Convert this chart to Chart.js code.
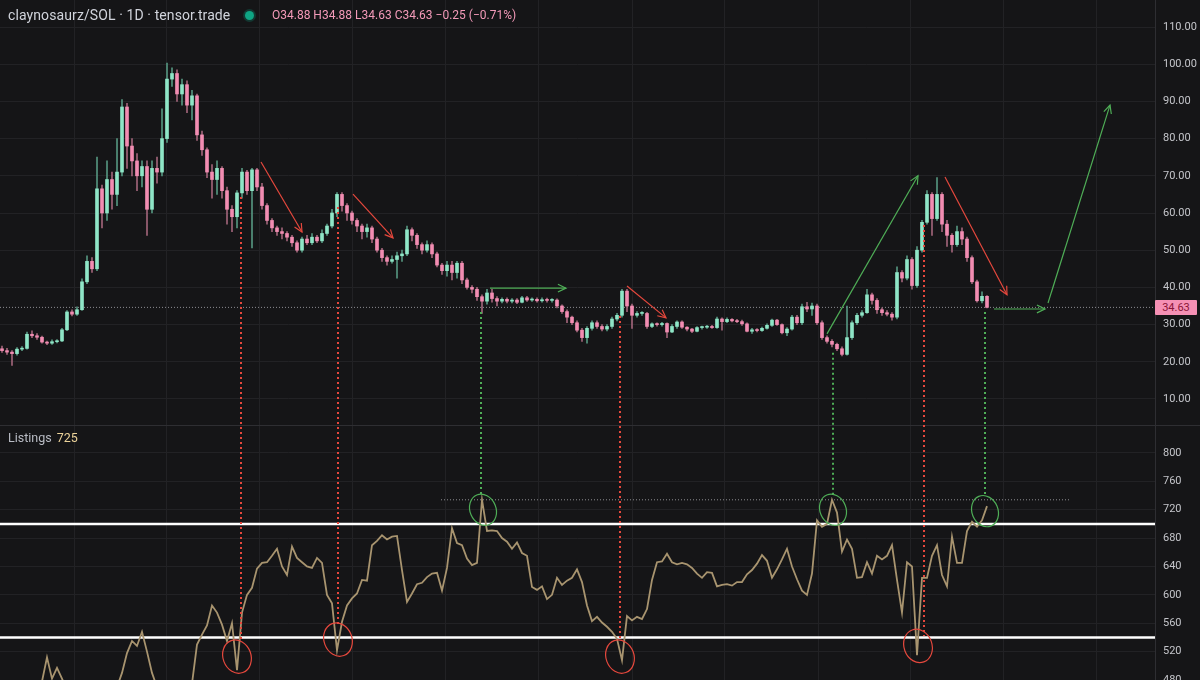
<!DOCTYPE html>
<html><head><meta charset="utf-8">
<script src="https://cdn.jsdelivr.net/npm/chart.js@4.4.1/dist/chart.umd.min.js"></script>
<style>
html,body{margin:0;padding:0;background:#151517;}
#wrap{position:relative;width:1200px;height:680px;overflow:hidden;background:#151517;font-family:Roboto,'DejaVu Sans',sans-serif;}
#c{position:absolute;left:0;top:0;}
.hdr{position:absolute;left:8px;top:7px;font-size:14px;color:#d1d4dc;white-space:nowrap;letter-spacing:0.1px;}
.dot{position:absolute;left:245px;top:11px;width:9px;height:9px;border-radius:50%;background:#0fa584;box-shadow:0 0 0 2px rgba(15,165,132,0.25);}
.ohlc{position:absolute;left:272px;top:8px;font-size:12px;color:#f49ab9;white-space:nowrap;}
.lst{position:absolute;left:8px;top:430px;font-size:12.5px;color:#b9bcc4;white-space:nowrap;}
.lst span{color:#ecd39a;margin-left:5px;}
.plabel{position:absolute;left:1155px;width:42px;height:15px;line-height:15px;background:#f590b4;color:#8a1538;font-size:11px;text-align:center;border-radius:1px;}
</style></head>
<body><div id="wrap"><canvas id="c" width="1200" height="680"></canvas>
<div class="hdr">claynosaurz/SOL · 1D · tensor.trade</div>
<div class="dot"></div>
<div class="ohlc">O34.88 H34.88 L34.63 C34.63 −0.25 (−0.71%)</div>
<div class="lst">Listings<span>725</span></div>
<div class="plabel" id="plabel">34.63</div>
</div>
<script>
// ---- data (one candle per index, oldest first) ----
const opens = [
23.5,23.0,22.6,22.2,23.4,23.6,27.4,27.0,26.6,25.3,
25.0,25.4,25.6,28.6,33.4,32.8,34.0,41.5,47.0,45.0,
66.5,60.0,69.0,65.0,71.0,88.5,78.0,74.0,70.0,72.5,
61.0,72.0,71.0,80.0,96.0,97.5,92.0,94.5,89.0,91.5,
81.0,77.0,71.0,69.0,72.0,66.0,61.0,59.0,65.4,71.0,
66.0,71.6,67.0,62.0,58.0,56.0,55.0,54.5,53.5,52.0,
50.0,53.0,52.0,53.5,52.5,54.5,56.5,60.0,65.0,62.0,
60.0,58.0,56.5,55.0,56.0,53.0,50.0,48.0,47.0,47.5,
48.5,49.0,55.5,54.0,51.5,50.0,51.5,49.0,46.0,44.5,
46.0,44.0,46.5,42.0,40.0,39.5,37.5,36.3,38.5,37.0,
36.3,36.8,36.3,36.6,36.0,37.2,36.6,36.8,36.4,36.7,
36.5,36.6,35.0,33.5,32.0,30.5,28.5,26.5,29.0,30.5,
29.5,28.8,29.5,31.5,32.5,39.0,35.0,32.5,33.0,33.0,
29.5,30.2,30.0,30.3,28.0,29.5,30.7,29.3,28.8,28.2,
29.2,29.3,29.5,29.2,31.5,30.8,31.4,31.0,30.8,30.2,
28.2,28.6,28.4,29.0,29.8,31.2,30.0,27.8,28.8,32.0,
30.5,34.8,34.2,35.0,30.5,26.5,25.5,24.7,23.5,22.0,
26.5,30.5,32.5,33.2,38.0,36.5,34.0,33.2,32.8,32.0,
44.0,42.5,47.5,40.5,50.0,57.5,65.0,58.5,65.0,57.0,
54.0,51.5,55.0,53.0,48.0,41.5,36.4,37.6];
const highs = [
24.2,23.6,23.0,23.8,24.1,28.0,28.3,27.6,26.9,25.6,
25.9,26.0,29.0,33.8,34.0,34.8,42.3,48.5,48.0,75.0,
67.5,74.0,71.0,80.0,90.5,89.5,80.0,76.0,74.0,74.0,
74.0,75.0,88.0,100.3,99.0,98.5,96.0,95.5,93.0,92.0,
82.0,77.5,73.0,74.0,72.5,67.0,62.0,66.0,72.0,71.5,
72.0,72.0,68.0,62.5,58.5,56.5,56.0,55.0,54.0,52.5,
53.5,54.0,54.5,54.0,55.5,57.0,61.0,65.5,65.5,62.5,
60.5,58.5,57.0,57.0,56.5,53.5,50.5,48.5,48.5,49.5,
50.0,56.5,56.0,54.5,52.0,52.5,52.0,49.5,46.5,47.0,
47.0,47.0,47.0,42.5,40.5,40.0,38.0,39.5,39.5,37.5,
37.2,37.2,37.0,37.0,37.6,37.6,37.2,37.2,37.2,37.1,
37.0,36.9,35.3,34.0,32.3,31.0,29.0,29.5,31.0,31.0,
30.0,30.0,32.0,33.0,39.5,39.5,35.5,33.5,33.5,33.3,
30.5,30.5,30.6,30.5,30.0,31.0,31.0,29.5,29.0,29.5,
29.6,29.8,29.8,32.0,31.8,31.8,31.6,31.4,31.2,30.5,
29.0,28.9,29.3,30.2,31.5,31.4,30.2,29.2,32.5,32.5,
35.5,36.0,35.8,35.5,31.0,27.0,26.0,25.0,24.0,35.0,
31.0,33.0,33.8,39.5,38.5,37.0,34.5,33.8,33.2,45.5,
44.5,48.5,48.0,51.0,58.0,66.0,65.5,69.5,65.5,58.0,
54.5,56.5,56.0,53.5,48.5,42.0,38.8,37.8];
const lows = [
22.5,22.0,19.0,21.8,23.0,23.4,26.5,26.0,25.0,24.6,
24.7,25.1,25.4,28.4,32.3,32.5,33.8,41.0,44.0,44.5,
56.0,58.0,61.0,62.0,70.0,72.0,70.0,66.0,67.0,54.0,
60.0,68.0,70.0,79.0,94.0,90.0,89.0,87.0,85.0,79.5,
75.5,69.5,64.0,65.0,64.0,57.0,55.0,56.0,64.0,65.0,
50.6,66.0,61.0,57.0,55.0,54.0,53.0,52.5,51.0,49.5,
49.5,51.5,51.5,52.0,52.0,54.0,56.0,59.0,60.5,58.0,
57.0,55.0,53.0,53.5,52.0,49.5,47.0,46.0,46.5,42.5,
47.0,48.5,52.5,50.5,49.0,49.5,48.0,45.5,43.5,43.0,
42.0,42.5,41.0,39.5,38.5,36.5,33.0,35.5,36.0,35.0,
35.8,35.8,35.8,35.6,35.8,36.2,36.2,36.0,36.0,36.0,
36.0,34.5,33.0,30.5,30.0,28.0,25.5,25.0,28.5,29.0,
28.3,28.3,29.0,31.0,32.0,33.5,29.0,32.0,32.5,29.0,
29.2,29.6,29.6,26.5,27.8,29.0,29.0,28.3,27.8,28.0,
28.8,29.0,29.0,29.0,28.5,30.5,30.7,30.5,29.8,28.0,
27.6,28.0,28.2,28.8,29.5,29.8,27.5,27.0,28.5,30.0,
30.0,33.5,32.5,30.0,26.0,25.0,24.0,23.0,21.6,21.8,
26.0,30.0,32.0,33.0,35.5,33.0,32.5,32.3,31.2,31.5,
41.5,42.0,39.5,40.0,49.5,57.0,54.0,58.0,55.0,51.0,
49.5,51.0,51.5,47.0,41.0,36.0,35.8,34.5];
const closes = [
23.0,22.6,22.2,23.4,23.6,27.4,27.0,26.6,25.3,25.0,
25.4,25.6,28.6,33.4,32.8,34.0,41.5,47.0,45.0,66.5,
60.0,69.0,65.0,71.0,88.5,78.0,74.0,70.0,72.5,61.0,
72.0,71.0,80.0,96.0,97.5,92.0,94.5,89.0,91.5,81.0,
77.0,71.0,69.0,72.0,66.0,61.0,59.0,65.4,71.0,66.0,
71.6,67.0,62.0,58.0,56.0,55.0,54.5,53.5,52.0,50.0,
53.0,52.0,53.5,52.5,54.5,56.5,60.0,65.0,62.0,60.0,
58.0,56.5,55.0,56.0,53.0,50.0,48.0,47.0,47.5,48.5,
49.0,55.5,54.0,51.5,50.0,51.5,49.0,46.0,44.5,46.0,
44.0,46.5,42.0,40.0,39.5,37.5,36.3,38.5,37.0,36.3,
36.8,36.3,36.6,36.0,37.2,36.6,36.8,36.4,36.7,36.5,
36.6,35.0,33.5,32.0,30.5,28.5,26.5,29.0,30.5,29.5,
28.8,29.5,31.5,32.5,39.0,35.0,32.5,33.0,33.0,29.5,
30.2,30.0,30.3,28.0,29.5,30.7,29.3,28.8,28.2,29.2,
29.3,29.5,29.2,31.5,30.8,31.4,31.0,30.8,30.2,28.2,
28.6,28.4,29.0,29.8,31.2,30.0,27.8,28.8,32.0,30.5,
34.8,34.2,35.0,30.5,26.5,25.5,24.7,23.5,22.0,26.5,
30.5,32.5,33.2,38.0,36.5,34.0,33.2,32.8,32.0,44.0,
42.5,47.5,40.5,50.0,57.5,65.0,58.5,65.0,57.0,54.0,
51.5,55.0,53.0,48.0,41.5,36.4,37.6,34.63];
const listings = [
465,462,458,455,460,465,462,468,478,512,
482,497,482,465,460,458,455,460,462,465,
468,470,465,470,490,518,535,528,548,520,
490,470,462,458,460,458,462,465,475,530,
544,557,585,575,558,535,560,494,575,600,
610,637,645,646,655,665,640,628,668,652,
646,640,638,652,645,600,588,522,562,585,
595,602,621,620,670,676,684,678,682,683,
635,590,602,615,617,625,630,631,606,638,
694,673,670,651,642,645,734,690,691,690,
680,675,665,674,659,655,611,607,612,594,
600,624,614,620,624,636,618,585,563,569,
561,555,548,538,508,570,564,569,566,580,
621,646,647,658,646,643,645,643,638,630,
624,632,631,612,614,615,613,618,618,629,
635,644,656,648,624,636,650,665,640,622,
606,600,630,705,696,700,734,716,661,678,
665,624,625,646,630,655,650,655,670,621,
575,646,640,515,624,624,655,670,628,612,
682,645,645,690,703,696,705,725];
const priceTicks = [10,20,30,40,50,60,70,80,90,100,110];
const listingTicks = [480,520,560,600,640,680,720,760,800];
const monthTicks = [14.4,33,51.4,70,88.6,107.2,126,144.6,163.2,181.6,200.2,218.8];
const bandLevels = [700,540];
// annotations in data units: [index, value, ...]
const redArrows = [[51.8,73.7,60.0,54.9],[70.2,65.1,78.2,53.3],[125.0,40.4,132.8,31.8],[188.6,69.7,201.0,38.0]];
const greenArrows = [[97.6,39.8,112.8,39.8],[165.0,27.5,183.2,70.0],[198.4,34.2,208.6,34.2],[209.2,35.8,221.6,89.0]];
const redDrops = [[47.8,64.3,534],[67.2,61.6,555],[123.6,32.3,537],[184.4,56.8,542]];
const greenDrops = [[95.8,33.4,741],[166.2,22.4,742],[196.6,33.4,741]];
const redRings = [[47.0,513],[67.2,537],[123.6,513],[183.2,528]];
const greenRings = [[96.2,720],[166.2,720],[196.6,718]];
const listingRef = {from:87.8, to:213.4, value:734};

// ---- chart ----
const N = closes.length;
const xMin = -0.4, xMax = 230.6;
const lastClose = closes[N-1];
const UP = '#8fe6c7', DOWN = '#f28db2', UPW = '#55957f', DOWNW = '#a06479';
const RED = '#e5483d', GREEN = '#4fae57';
const gridC = '#222225';

const bodies = closes.map((c,i)=>({x:i, y:[opens[i], c]}));
const wicks = closes.map((c,i)=>({x:i, y:[lows[i], highs[i]]}));
const isUp = i => closes[i] >= opens[i];
const noPad = s => { s.paddingTop = 0; s.paddingBottom = 0; s.paddingLeft = 0; s.paddingRight = 0; };

function arrow(ctx, x1,y1,x2,y2,color){
  ctx.strokeStyle=color; ctx.lineWidth=1.2;
  ctx.beginPath(); ctx.moveTo(x1,y1); ctx.lineTo(x2,y2); ctx.stroke();
  const a=Math.atan2(y2-y1,x2-x1), L=9, s=0.45;
  ctx.beginPath();
  ctx.moveTo(x2-L*Math.cos(a-s), y2-L*Math.sin(a-s));
  ctx.lineTo(x2,y2);
  ctx.lineTo(x2-L*Math.cos(a+s), y2-L*Math.sin(a+s));
  ctx.stroke();
}

const annot = {
  id:'annot',
  afterDatasetsDraw(chart){
    const {ctx, scales:{x,y,y2}} = chart;
    ctx.save();
    const sep = Math.round(y.bottom)+0.5;
    ctx.strokeStyle='#2e2e32'; ctx.lineWidth=1;
    ctx.beginPath(); ctx.moveTo(0,sep); ctx.lineTo(chart.width,sep); ctx.stroke();
    ctx.lineWidth=2; ctx.setLineDash([2,3]);
    const drops = (list,color)=>{ ctx.strokeStyle=color; list.forEach(d=>{
      const px=Math.round(x.getPixelForValue(d[0]));
      ctx.beginPath(); ctx.moveTo(px,y.getPixelForValue(d[1])); ctx.lineTo(px,y2.getPixelForValue(d[2])); ctx.stroke();});};
    drops(redDrops,RED); drops(greenDrops,GREEN);
    ctx.setLineDash([]);
    ctx.lineWidth=1.2;
    const rings=(list,color,rx,ry,rot)=>{ ctx.strokeStyle=color; list.forEach(r=>{
      ctx.beginPath(); ctx.ellipse(x.getPixelForValue(r[0]), y2.getPixelForValue(r[1]), rx, ry, rot, 0, Math.PI*2); ctx.stroke();});};
    rings(redRings,RED,14,17,-0.35);
    rings(greenRings,GREEN,13,16,-0.4);
    redArrows.forEach(a=>arrow(ctx,x.getPixelForValue(a[0]),y.getPixelForValue(a[1]),x.getPixelForValue(a[2]),y.getPixelForValue(a[3]),RED));
    greenArrows.forEach(a=>arrow(ctx,x.getPixelForValue(a[0]),y.getPixelForValue(a[1]),x.getPixelForValue(a[2]),y.getPixelForValue(a[3]),GREEN));
    ctx.restore();
  }
};

Chart.defaults.font.family = 'Roboto';
const chart = new Chart(document.getElementById('c'), {
  type:'line',
  data:{ datasets:[
    { type:'bar', data:bodies, yAxisID:'y', grouped:false, barThickness:3, minBarLength:1, borderWidth:0,
      backgroundColor:c=>isUp(c.dataIndex)?UP:DOWN, order:1 },
    { type:'bar', data:wicks, yAxisID:'y', grouped:false, barThickness:1, borderWidth:0,
      backgroundColor:c=>isUp(c.dataIndex)?UPW:DOWNW, order:2 },
    { data:[{x:xMin,y:lastClose},{x:xMax,y:lastClose}], yAxisID:'y', borderColor:'#8d8d92', borderWidth:1, borderDash:[1,2], pointRadius:0, order:4 },
    { data:listings.map((v,i)=>({x:i,y:v})), yAxisID:'y2', borderColor:'#a8946f', borderWidth:1.8, pointRadius:0, tension:0, order:1 },
    ...bandLevels.map(v=>({ data:[{x:xMin,y:v},{x:xMax,y:v}], yAxisID:'y2', borderColor:'#ffffff', borderWidth:2.5, pointRadius:0, order:3 })),
    { data:[{x:listingRef.from,y:listingRef.value},{x:listingRef.to,y:listingRef.value}], yAxisID:'y2', borderColor:'#8d8d92', borderWidth:1, borderDash:[1,2], pointRadius:0, order:4 }
  ]},
  options:{
    responsive:false, animation:false, devicePixelRatio:1, events:[],
    layout:{padding:0},
    plugins:{legend:{display:false}, tooltip:{enabled:false}},
    scales:{
      x:{ type:'linear', min:xMin, max:xMax, offset:false,
          grid:{color:gridC, drawTicks:false, offset:false}, border:{display:false},
          ticks:{display:false},
          afterBuildTicks:s=>{ s.ticks = monthTicks.map(v=>({value:v})); },
          afterFit:s=>{ s.height = 0; noPad(s); } },
      y:{ type:'linear', position:'right', stack:'panes', stackWeight:425, offset:false,
          min:3.01, max:117.26,
          grid:{color:gridC, drawTicks:false}, border:{color:'#2e2e32'},
          ticks:{color:'#c4c5ca', font:{size:11}, padding:8, autoSkip:false, callback:v=>Number(v).toFixed(2)},
          afterBuildTicks:s=>{ s.ticks = priceTicks.map(v=>({value:v})); },
          afterFit:s=>{ s.width = 45; noPad(s); } },
      y2:{ type:'linear', position:'right', stack:'panes', stackWeight:255, offset:false,
          min:480, max:839.4,
          grid:{color:gridC, drawTicks:false}, border:{color:'#2e2e32'},
          ticks:{color:'#c4c5ca', font:{size:11}, padding:8, autoSkip:false, callback:v=>String(v)},
          afterBuildTicks:s=>{ s.ticks = listingTicks.map(v=>({value:v})); },
          afterFit:s=>{ s.width = 45; noPad(s); } }
    }
  },
  plugins:[annot]
});
const pl = document.getElementById('plabel');
pl.style.top = (chart.scales.y.getPixelForValue(lastClose) - 7.5) + 'px';
pl.textContent = lastClose.toFixed(2);
</script>
</body></html>
